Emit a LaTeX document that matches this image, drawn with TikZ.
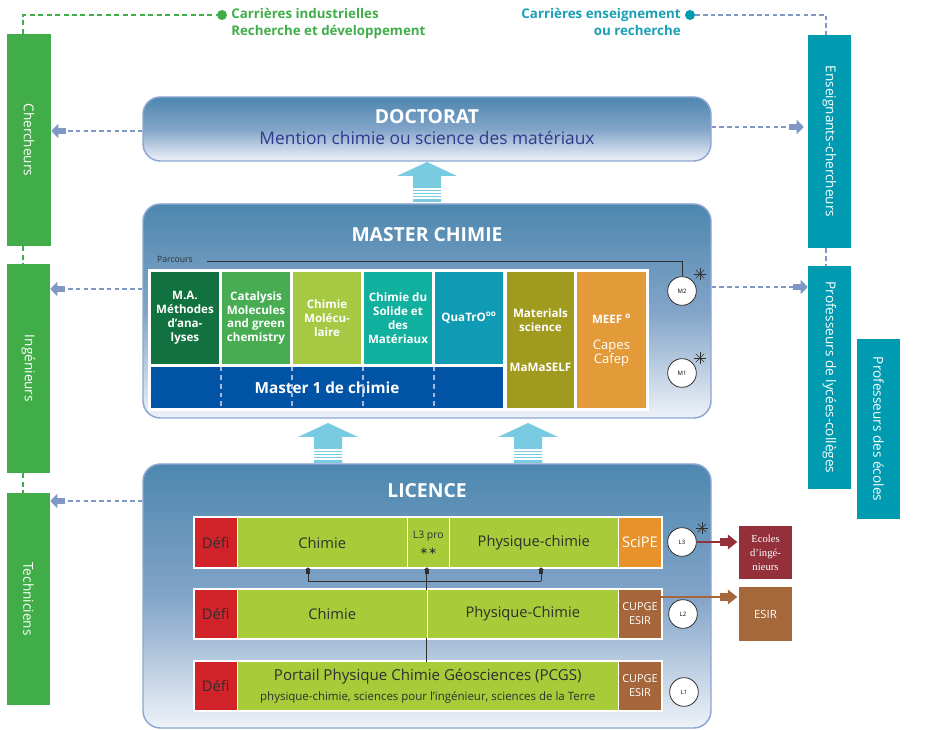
\documentclass[tikz,border=0pt]{standalone}
\usepackage{fontspec}
\usepackage{graphicx}
\setmainfont{Open Sans}
\newfontfamily\ecolesfont{Liberation Serif}
\newfontfamily\symbfont{DejaVu Sans}
\usetikzlibrary{arrows.meta,calc}

\definecolor{carrgreen}{HTML}{41AD49}
\definecolor{carrteal}{HTML}{1A9FB6}
\definecolor{boxgreen}{HTML}{41AD49}
\definecolor{boxteal}{HTML}{009BB1}
\definecolor{paneltop}{HTML}{4D87AF}
\definecolor{panelmid}{HTML}{82A4C8}
\definecolor{panelbot}{HTML}{EEF2F8}
\definecolor{panelline}{HTML}{8DA6D2}
\definecolor{subblue}{HTML}{2E3A8E}
\definecolor{upcyan}{HTML}{78CBE1}
\definecolor{dashblue}{HTML}{7E97C5}
\definecolor{colMA}{HTML}{12723F}
\definecolor{colCat}{HTML}{48AD52}
\definecolor{colChm}{HTML}{A6C843}
\definecolor{colSol}{HTML}{12B09F}
\definecolor{colQua}{HTML}{0F9BB4}
\definecolor{colMat}{HTML}{A09B1E}
\definecolor{colMeef}{HTML}{E39A38}
\definecolor{colM1}{HTML}{0153A5}
\definecolor{colLic}{HTML}{A8CB3A}
\definecolor{colDefi}{HTML}{D2232A}
\definecolor{colSci}{HTML}{E8922B}
\definecolor{colCup}{HTML}{A4663A}
\definecolor{colEco}{HTML}{93303A}
\definecolor{colEsir}{HTML}{A5683A}
\definecolor{textdark}{HTML}{2F2F2F}

\def\pxl{0.75pt}
\def\bigup(#1,#2){\fill[upcyan] (#1-30,#2+14) -- (#1,#2) -- (#1+30,#2+14) -- (#1+14,#2+14) -- (#1+14,#2+40) -- (#1-14,#2+40) -- (#1-14,#2+14) -- cycle;
	\foreach \s in {27,30,33,36} \draw[white, line width=0.8pt] (#1-14,#2+\s) -- (#1+14,#2+\s);}
\def\astr(#1,#2){\foreach \a in {0,45,90,135} \draw[textdark, line width=0.5pt] ($(#1,#2)+(\a:6)$) -- ($(#1,#2)+(\a+180:6)$);}

\tikzset{
	cell/.style 2 args={rectangle, inner sep=0pt, minimum width={#1*\pxl}, minimum height={#2*\pxl}},
	career/.style={fill=#1, text=white, font=\fontsize{10.2}{12}\selectfont},
	dot/.style={circle, fill=#1, inner sep=0pt, minimum size=7.5pt},
	panel/.style={draw=panelline, line width=1.1pt, rounded corners=13pt, top color=paneltop, bottom color=panelbot, middle color=panelmid},
	paneltitle/.style={text=white, font=\fontsize{14.5}{17}\selectfont\bfseries},
	track/.style={fill=#1, text=white, align=center, font=\fontsize{8.7}{10.4}\selectfont\bfseries},
	lic/.style={fill=#1, text=textdark, align=center, font=\fontsize{11}{13}\selectfont},
	lvl/.style={circle, draw=textdark, fill=white, line width=0.6pt, minimum size=21.5pt, inner sep=0pt, font=\fontsize{4.5}{5}\selectfont},
	gdash/.style={carrgreen, line width=1.1pt, dash pattern=on 3.75pt off 2.6pt},
	bdash/.style={dashblue, line width=1.1pt, dash pattern=on 3.4pt off 2.4pt},
	bconn/.style={bdash, -{Rectangle[length=6pt,width=4.5pt]Triangle[length=5.25pt,width=10.5pt]}},
	lconn/.style={textdark, line width=0.75pt},
	lup/.style={lconn, -{Rectangle[length=3pt,width=3pt]Triangle[length=2pt,width=4pt]}},
	fatconn/.style={#1, line width=0.9pt, -{Rectangle[length=6pt,width=5.5pt]Triangle[length=7pt,width=11pt]}},
}

\begin{document}
\begin{tikzpicture}[x=0.75pt,y=-0.75pt]
	%%%%% START %%%%%
	\fill[white] (0,0) rectangle (942,730);
	\useasboundingbox (0,0) rectangle (942,730);

	% debouches
	\node[career=boxgreen, cell={44}{212}] (cherch) at (29,140) {\rotatebox{-90}{Chercheurs}};
	\node[career=boxgreen, cell={43}{209}] (ing) at (28.5,368.5) {\rotatebox{-90}{Ingénieurs}};
	\node[career=boxgreen, cell={43}{212}] (tech) at (28.5,599) {\rotatebox{-90}{Techniciens}};
	\node[career=boxteal, cell={43}{213}] (ens) at (829.5,141.5) {\rotatebox{-90}{Enseignants-chercheurs}};
	\node[career=boxteal, cell={43}{223}] (plc) at (829.5,377.5) {\rotatebox{-90}{Professeurs de lycées-collèges}};
	\node[career=boxteal, cell={43}{180}] (pec) at (878.5,429) {\rotatebox{-90}{Professeurs des écoles}};

	\node[dot=carrgreen] (gdot) at (222,15) {};
	\node[anchor=north west, align=left, inner sep=0pt, text=carrgreen, font=\fontsize{10}{12.75}\selectfont\bfseries] (gcar) at (231,8.5) {Carrières industrielles\\Recherche et développement};
	\node[dot=boxteal] (tdot) at (690,15) {};
	\node[anchor=north east, align=right, inner sep=0pt, text=carrteal, font=\fontsize{10}{12.75}\selectfont\bfseries] (tcar) at (681,8.5) {Carrières enseignement\\ou recherche};

	\draw[gdash] (cherch.north -| 23,0) |- (gdot);
	\draw[gdash] (cherch.south -| 23,0) -- (ing.north -| 23,0);
	\draw[gdash] (ing.south -| 23,0) -- (tech.north -| 23,0);
	\draw[bdash] (tdot) -| (ens.north -| 826,0);
	\draw[bdash] (ens.south -| 826,0) -- (plc.north -| 826,0);

	% doctorat
	\node[panel, cell={568}{64}] (doct) at (427,129) {};
	\node[paneltitle] (dtitle) at (427,117) {DOCTORAT};
	\node[text=subblue, font=\fontsize{13}{15}\selectfont] (dsub) at (427,138) {Mention chimie ou science des matériaux};

	% master
	\node[panel, cell={568}{214}] (master) at (427,311) {};
	\node[paneltitle] (mtitle) at (427,235) {MASTER CHIMIE};
	\node[inner sep=0pt, text=textdark, font=\fontsize{6.5}{8}\selectfont] (parc) at (175,259) {Parcours};
	\fill[white] (148,269) rectangle (649,411);
	\node[track=colMA, cell={68}{92}] (ma) at (185,318) {M.A.\\Méthodes\\d’ana-\\lyses};
	\node[track=colCat, cell={68}{92}] (cat) at (256,318) {Catalysis\\Molecules\\and green\\chemistry};
	\node[track=colChm, cell={68}{92}] (chm) at (327,318) {Chimie\\Molécu-\\laire};
	\node[track=colSol, cell={68}{92}] (sol) at (398,318) {Chimie du\\Solide et\\des\\Matériaux};
	\node[track=colQua, cell={68}{92}] (qua) at (469,318) {QuaTrO\textsuperscript{oo}};
	\node[track=colMat, cell={67}{136}] (mat) at (540.5,340) {Materials\\science\\[20pt]MaMaSELF};
	\node[track=colMeef, cell={69}{136}] (meef) at (611.5,340) {MEEF~\textsuperscript{o}\\[9pt]{\mdseries\fontsize{9.8}{11}\selectfont Capes}\\{\mdseries\fontsize{9.8}{11}\selectfont Cafep}};
	\node[cell={352}{41}, fill=colM1, text=white, font=\fontsize{11.5}{13}\selectfont\bfseries] (m1bar) at (327,387.5) {Master 1 de chimie};
	\foreach \a in {ma,cat,chm,sol}
		\draw[panelline!80!white, line width=1.6pt, dash pattern=on 3.5pt off 3pt] ([xshift=1.1pt]\a.east |- m1bar.north) -- ([xshift=1.1pt]\a.east |- m1bar.south);
	\node[lvl] (m2) at (682,291) {M2};
	\node[lvl] (m1) at (682,373) {M1};
	\draw[lconn] ([xshift=10.5pt,yshift=-2.25pt]parc.east) -| (m2);
	\astr(700,274);
	\astr(700,358);

	% licence
	\node[panel, cell={568}{264}] (licence) at (427,596) {};
	\node[paneltitle] (ltitle) at (427,491) {LICENCE};
	\fill[white] (193,516) rectangle (663,569);
	\fill[white] (193,588) rectangle (663,640);
	\fill[white] (193,660) rectangle (663,712);
	\node[lic=colDefi, cell={41.5}{49}] (d3) at (215.75,542.5) {Défi};
	\node[lic=colLic, cell={168.5}{49}] (l3chim) at (322.25,542.5) {Chimie};
	\node[lic=colLic, cell={40.5}{49}, font=\fontsize{7.8}{12}\selectfont] (l3pro) at (428.25,542.5) {L3 pro\\{\symbfont ∗∗}};
	\node[lic=colLic, cell={167.5}{49}] (l3phys) at (533.75,542.5) {Physique-chimie};
	\node[lic=colSci, cell={42}{49}, text=white] (scipe) at (640,542.5) {SciPE};
	\node[lic=colDefi, cell={41.5}{48}] (d2) at (215.75,614) {Défi};
	\node[lic=colLic, cell={188.5}{48}] (l2chim) at (332.25,614) {Chimie};
	\node[lic=colLic, cell={189.5}{48}] (l2phys) at (522.75,614) {Physique-Chimie};
	\node[lic=colCup, cell={42}{48}, text=white, font=\fontsize{8.2}{10.5}\selectfont] (cup2) at (640,614) {CUPGE\\ESIR};
	\node[lic=colDefi, cell={41.5}{48}] (d1) at (215.75,686) {Défi};
	\node[lic=colLic, cell={379.5}{48}, font=\fontsize{11.3}{15}\selectfont] (port) at (427.75,686) {Portail Physique Chimie Géosciences (PCGS)\\{\fontsize{8.6}{10}\selectfont physique-chimie, sciences pour l’ingénieur, sciences de la Terre}};
	\node[lic=colCup, cell={42}{48}, text=white, font=\fontsize{8.2}{10.5}\selectfont] (cup1) at (640,686) {CUPGE\\ESIR};
	\node[lvl] (l3) at (682,542) {L3};
	\node[lvl] (l2) at (683,614) {L2};
	\node[lvl] (l1) at (684,692) {L1};
	\astr(702,528);

	\draw[lconn] (l2chim.south east) -- (l2chim.south east |- port.north);
	\draw[lup] (l2chim.north east) -- (l2chim.north east |- l3pro.south);
	\coordinate (hl) at (308,581);
	\coordinate (hr) at (541,581);
	\draw[lconn] (hl) -- (hr);
	\draw[lup] (hl) -- (hl |- l3chim.south);
	\draw[lup] (hr) -- (hr |- l3phys.south);

	\node[cell={53}{53}, fill=colEco, text=white, align=center, font=\ecolesfont\fontsize{8}{10.5}\selectfont] (ecoles) at (765.5,552.5) {Ecoles\\d’ingé-\\nieurs};
	\node[cell={53}{54}, fill=colEsir, text=white, font=\fontsize{8.5}{10}\selectfont] (esir) at (765.5,614) {ESIR};
	\draw[fatconn=colEco] (l3) -- ($(l3 -| ecoles.west)+(-1.5,0)$);
	\draw[fatconn=colEsir] (cup2.east |- 0,597) -- ($(esir.west |- 0,597)+(-1.5,0)$);

	% vers les debouches
	\draw[bconn] (doct.west |- 0,131) -- (cherch.east |- 0,131);
	\draw[bconn] (doct.east |- 0,127) -- ($(ens.west |- 0,127)+(-4,0)$);
	\draw[bconn] (master.west |- 0,289) -- (ing.east |- 0,289);
	\draw[bconn] (master.east |- 0,287) -- (plc.west |- 0,287);
	\draw[bconn] (licence.west |- 0,501) -- (tech.east |- 0,501);

	\bigup(427,162);
	\bigup(328,423);
	\bigup(528,423);
	%%%%% END %%%%%
\end{tikzpicture}
\end{document}
